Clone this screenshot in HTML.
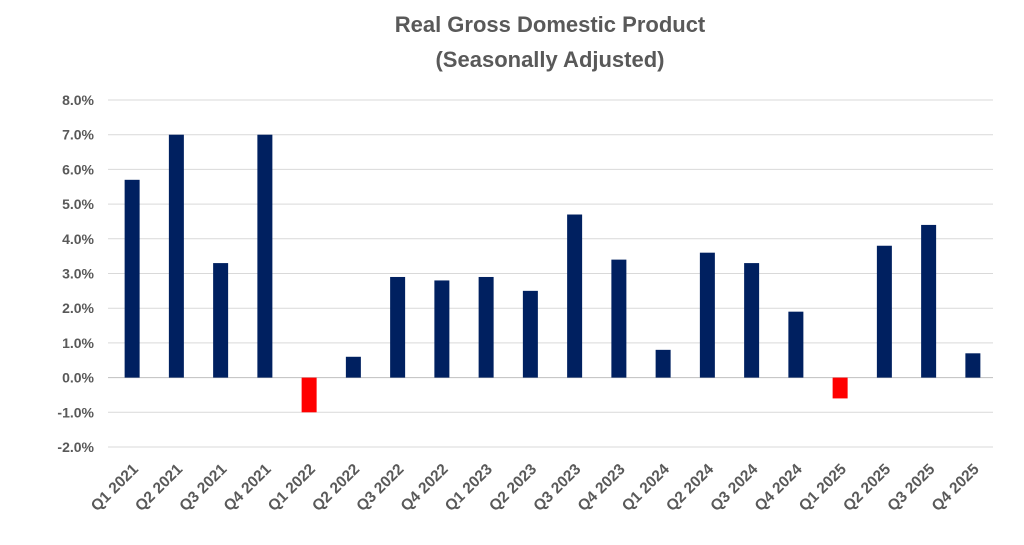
<!DOCTYPE html>
<html><head><meta charset="utf-8"><style>
body{margin:0;background:#fff;width:1024px;height:540px;overflow:hidden;font-family:"Liberation Sans",sans-serif}
</style></head><body>
<svg id="chart" width="1024" height="540" xmlns="http://www.w3.org/2000/svg">
<text x="550" y="32" text-anchor="middle" font-size="22" font-weight="bold" fill="#595959">Real Gross Domestic Product</text>
<text x="550" y="67" text-anchor="middle" font-size="22" font-weight="bold" fill="#595959">(Seasonally Adjusted)</text>
<g id="grid"></g><g id="bars"></g><g id="ylab"></g><g id="xlab"></g>
</svg>
<script>
const categories=["Q1 2021","Q2 2021","Q3 2021","Q4 2021","Q1 2022","Q2 2022","Q3 2022","Q4 2022","Q1 2023","Q2 2023","Q3 2023","Q4 2023","Q1 2024","Q2 2024","Q3 2024","Q4 2024","Q1 2025","Q2 2025","Q3 2025","Q4 2025"];
const values=[5.7,7.0,3.3,7.0,-1.0,0.6,2.9,2.8,2.9,2.5,4.7,3.4,0.8,3.6,3.3,1.9,-0.6,3.8,4.4,0.7];
const yTicks=[8,7,6,5,4,3,2,1,0,-1,-2];
const NS="http://www.w3.org/2000/svg";
const x0=110,x1=995,yTop=100,yBot=447,yMax=8,yMin=-2;
const y=v=>yTop+(yMax-v)*(yBot-yTop)/(yMax-yMin);
const band=(x1-x0)/categories.length;
const xc=i=>x0+band*(i+0.5);
function mk(t,p){const e=document.createElementNS(NS,t);for(const k in p)e.setAttribute(k,p[k]);return e;}
yTicks.forEach(t=>{
 const l=mk("line",{x1:108,x2:993,y1:y(t),y2:y(t),stroke:t===0?"#bfbfbf":"#d9d9d9","stroke-width":1});
 
 
 document.getElementById("grid").appendChild(l);
 const tx=mk("text",{x:94,y:y(t)+5,"text-anchor":"end","font-size":14,"font-weight":"bold",fill:"#595959"});
 tx.textContent=t.toFixed(1)+"%";
 
 
 document.getElementById("ylab").appendChild(tx);
});
values.forEach((v,i)=>{
 const w=15;
 const r=mk("rect",{x:xc(i)-w/2,y:Math.min(y(v),y(0)),width:w,height:Math.abs(y(v)-y(0)),fill:v<0?"#ff0000":"#002060"});
 
 
 document.getElementById("bars").appendChild(r);
 const tx=mk("text",{transform:`translate(${xc(i)+7},${yBot+23}) rotate(-45)`,"text-anchor":"end","font-size":15.5,"font-weight":"bold",fill:"#595959"});
 tx.textContent=categories[i];
 
 
 document.getElementById("xlab").appendChild(tx);
});
</script>
</body></html>
